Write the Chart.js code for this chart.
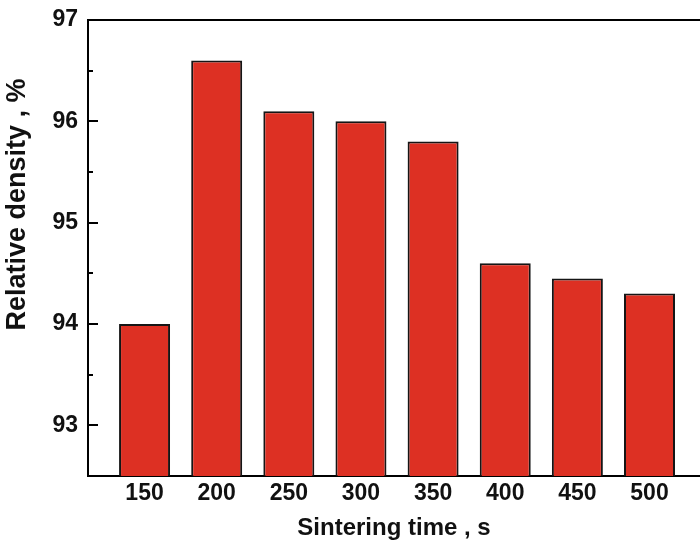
<!DOCTYPE html>
<html>
<head>
<meta charset="utf-8">
<script src="https://cdn.jsdelivr.net/npm/chart.js@4/dist/chart.umd.min.js"></script>
<style>
  html, body { margin: 0; padding: 0; background: #fff; }
  #wrap { width: 700px; height: 544px; }
</style>
</head>
<body>
<div id="wrap"><canvas id="c" width="700" height="544"></canvas></div>
<script>
// Sintering time (s) and the resulting relative density (%)
const sinteringTime = [150, 200, 250, 300, 350, 400, 450, 500];
const relativeDensity = [94.0, 96.6, 96.1, 96.0, 95.8, 94.6, 94.45, 94.3];
const yMajorTicks = [93, 94, 95, 96, 97];
const yMinorTicks = [93.5, 94.5, 95.5, 96.5];
const yTitle = 'Relative density , %';

const FONT = "'Liberation Sans', Arial, sans-serif";

// Frame line along the top, inward tick marks on the left axis, and the
// rotated y-axis title (sits a little above the axis midpoint)
const framePlugin = {
  id: 'frame',
  afterDraw(chart) {
    const { ctx, chartArea } = chart;
    const y = chart.scales.y;
    ctx.save();
    ctx.strokeStyle = '#000';
    ctx.lineWidth = 2;
    ctx.beginPath();
    ctx.moveTo(chartArea.left - 1, chartArea.top);
    ctx.lineTo(chartArea.right, chartArea.top);
    ctx.stroke();
    const drawTick = (v, len) => {
      const py = Math.round(y.getPixelForValue(v));
      ctx.beginPath();
      ctx.moveTo(chartArea.left, py);
      ctx.lineTo(chartArea.left + len, py);
      ctx.stroke();
    };
    yMajorTicks.forEach(v => drawTick(v, 10));
    yMinorTicks.forEach(v => drawTick(v, 5));

    ctx.translate(18, y.getPixelForValue(95.18));
    ctx.rotate(-Math.PI / 2);
    ctx.fillStyle = '#111';
    ctx.font = 'bold 27px ' + FONT;
    ctx.textAlign = 'center';
    ctx.textBaseline = 'middle';
    ctx.fillText(yTitle, 0, 0);
    ctx.restore();
  }
};

new Chart(document.getElementById('c'), {
  type: 'bar',
  data: {
    datasets: [{
      data: sinteringTime.map((t, i) => ({ x: t, y: relativeDensity[i] })),
      backgroundColor: '#dd3023',
      borderColor: '#151515',
      borderWidth: 2,
      borderSkipped: 'start',
      categoryPercentage: 1,
      barPercentage: 0.707
    }]
  },
  options: {
    responsive: false,
    animation: false,
    layout: { padding: { left: 0, top: 20, right: 0, bottom: 1 } },
    plugins: { legend: { display: false }, tooltip: { enabled: false } },
    scales: {
      x: {
        type: 'linear',
        offset: false,
        min: 110.8,
        max: 535,
        afterBuildTicks(scale) { scale.ticks = sinteringTime.map(v => ({ value: v })); },
        afterFit(scale) {
          scale.height = 67;
          scale.paddingLeft = 0;
          scale.paddingRight = 0;
        },
        grid: { display: false, drawTicks: false, offset: false },
        border: { display: true, color: '#000', width: 2 },
        ticks: {
          color: '#111',
          padding: 4,
          autoSkip: false,
          maxRotation: 0,
          font: { family: FONT, size: 23, weight: 'bold' },
          callback: v => String(v)
        },
        title: {
          display: true,
          text: 'Sintering time , s',
          color: '#111',
          padding: 0,
          font: { family: FONT, size: 24, weight: 'bold' }
        }
      },
      y: {
        min: 92.5,
        max: 97,
        afterBuildTicks(scale) { scale.ticks = yMajorTicks.map(v => ({ value: v })); },
        afterFit(scale) {
          scale.width = 88;
          scale.paddingTop = 0;
          scale.paddingBottom = 0;
        },
        grid: { display: false, drawTicks: false },
        border: { display: true, color: '#000', width: 2 },
        ticks: {
          color: '#111',
          padding: 10,
          font: { family: FONT, size: 23, weight: 'bold' },
          callback: v => String(v)
        }
      }
    }
  },
  plugins: [framePlugin]
});
</script>
</body>
</html>
